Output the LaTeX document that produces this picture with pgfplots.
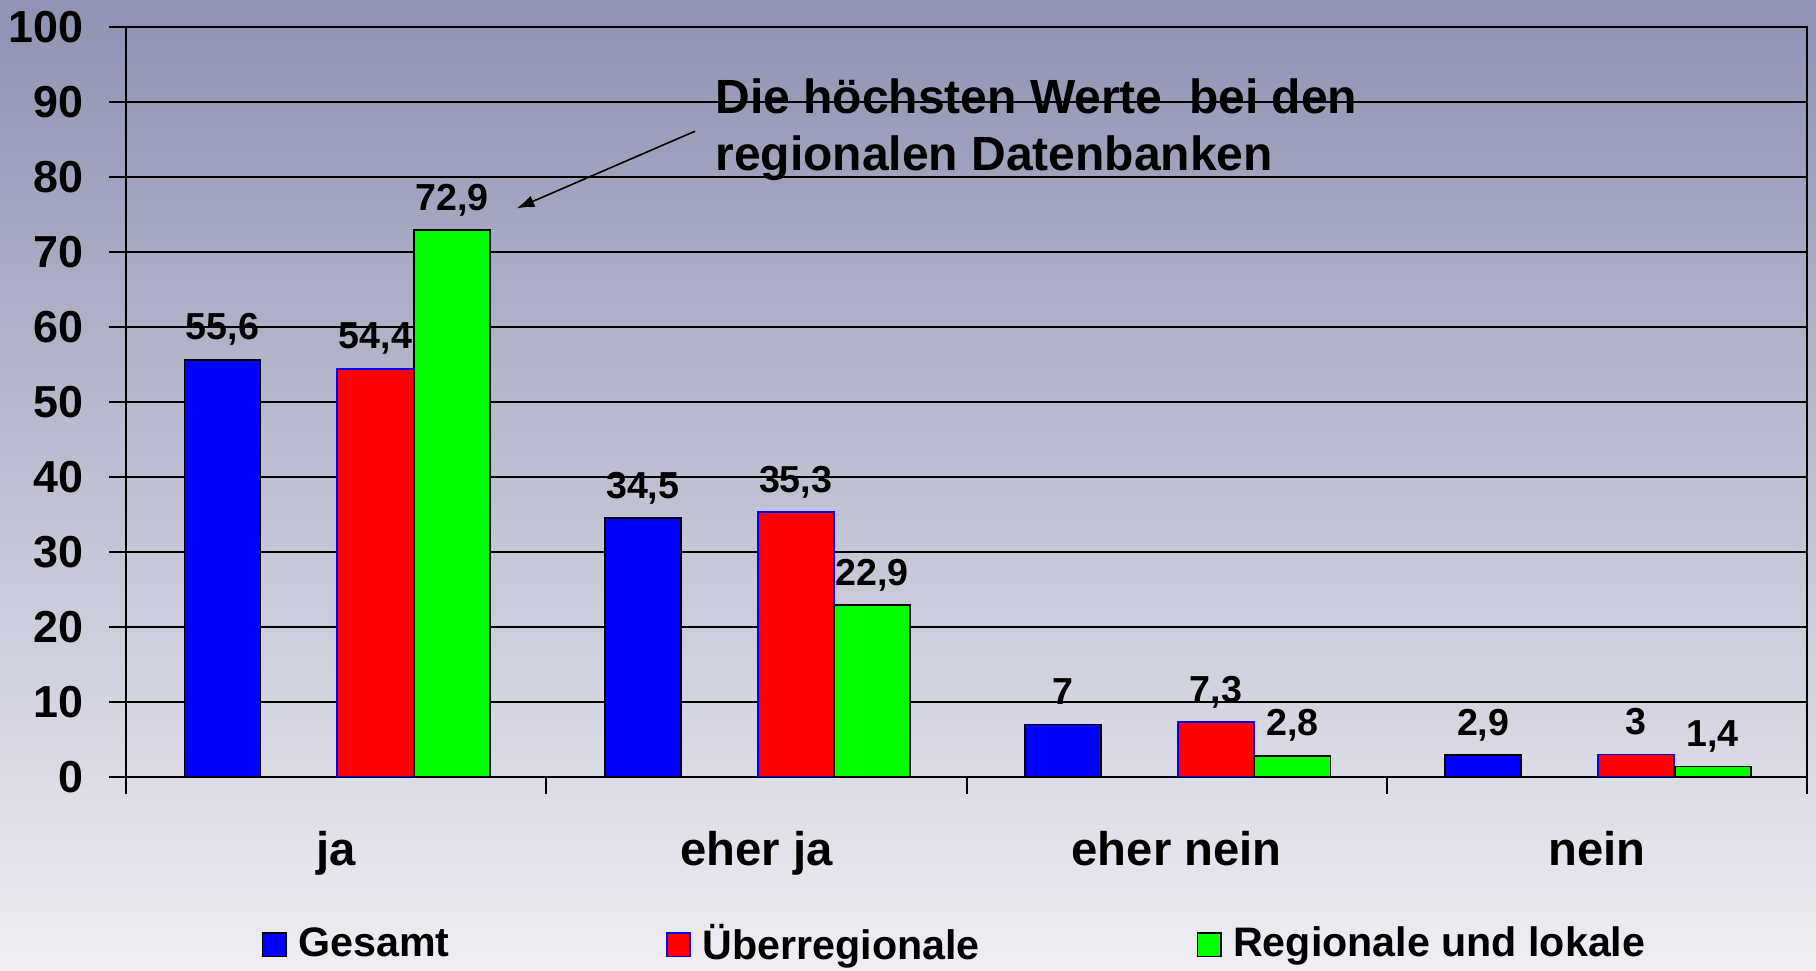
\documentclass[border=0pt]{standalone}
\usepackage{pgfplots}
\pgfplotsset{compat=1.18}
\usepackage{fontspec}
\setmainfont{Liberation Sans}
\usetikzlibrary{arrows.meta}
\definecolor{bgtop}{RGB}{143,146,178}
\definecolor{bgbot}{RGB}{238,238,243}
\definecolor{cblue}{RGB}{0,0,255}
\definecolor{cred}{RGB}{255,0,0}
\definecolor{cgreen}{RGB}{0,255,0}
\begin{document}
\begin{tikzpicture}
\useasboundingbox (0,0) rectangle (454pt,242.75pt);
\shade[top color=bgtop, bottom color=bgbot] (0,0) rectangle (454pt,242.75pt);
\begin{axis}[
  at={(31.5pt,48.5pt)}, anchor=south west,
  scale only axis, width=420.25pt, height=187.5pt,
  xmin=0, xmax=4, ymin=0, ymax=100,
  ybar, bar width=0.181,
  /pgf/number format/assume math mode=true,
  /pgf/number format/use comma,
  /pgf/number format/fixed,
  /pgf/number format/precision=1,
  xtick={0,1,2,3,4}, xticklabels={},
  extra x ticks={0.5,1.5,2.5,3.5},
  extra x tick labels={ja,eher ja,eher nein,nein},
  extra x tick style={major tick length=0pt},
  xticklabel style={anchor=base, inner sep=0pt, yshift=-22.25pt, font=\bfseries\fontsize{11.8}{13}\selectfont},
  ytick={0,10,...,100},
  yticklabel style={anchor=east, inner sep=0pt, xshift=-6.25pt, font=\bfseries\fontsize{11.2}{13}\selectfont},
  ymajorgrids, major grid style={black, line width=0.5pt},
  tick align=outside, major tick length=4.2pt,
  xtick pos=bottom, ytick pos=left,
  tick style={black, line width=0.5pt},
  axis line style={black, line width=0.5pt},
  nodes near coords,
  every node near coord/.append style={anchor=base, yshift=5pt, inner sep=0pt, text=black, font=\bfseries\fontsize{9.4}{11}\selectfont},
  legend columns=3,
  legend style={at={(0.0807,-0.224)}, anchor=west, draw=none, fill=none, inner sep=0pt, outer sep=0pt,
    nodes={inner sep=0pt}, font=\bfseries\fontsize{10.3}{12}\selectfont,
    /tikz/every even column/.append style={column sep=54.2pt},
    /tikz/every odd column/.append style={column sep=2.9pt}},
  legend image code/.code={\draw[#1] (0pt,-2.9pt) rectangle (5.8pt,2.9pt);},
]
\addplot[bar shift=0pt, fill=cblue, draw=black, line width=0.45pt] coordinates {(0.2295,55.6) (1.2295,34.5) (2.2295,7) (3.2295,2.9)};
\addlegendentry{Gesamt}
\addplot[bar shift=0pt, fill=cred, draw=cblue, line width=0.45pt] coordinates {(0.5935,54.4) (1.5935,35.3) (2.5935,7.3) (3.5935,3)};
\addlegendentry{Überregionale}
\addplot[bar shift=0pt, fill=cgreen, draw=black, line width=0.45pt] coordinates {(0.7755,72.9) (1.7755,22.9) (2.7755,2.8) (3.7755,1.4)};
\addlegendentry{Regionale und lokale}
\node[anchor=base west, inner sep=0pt, font=\bfseries\fontsize{12}{14}\selectfont] at (axis cs:1.4006,88.5) {Die höchsten Werte\ \ bei den};
\node[anchor=base west, inner sep=0pt, font=\bfseries\fontsize{12}{14}\selectfont] at (axis cs:1.4006,80.9) {regionalen Datenbanken};
\draw[-{Latex[length=4.5pt,width=3pt]}, line width=0.4pt] (axis cs:1.354,86.1) -- (axis cs:0.929,75.8);
\end{axis}
\end{tikzpicture}
\end{document}
